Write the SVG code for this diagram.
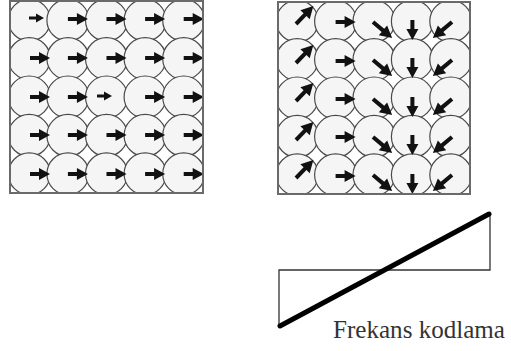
<svg xmlns="http://www.w3.org/2000/svg" xmlns:xlink="http://www.w3.org/1999/xlink" width="511" height="351" viewBox="0 0 511 351">
<style>
.c{fill:#f5f5f5;stroke:#4a4a4a;stroke-width:1.2}
.box{fill:none;stroke:#6a6a6a;stroke-width:2}
.ar{fill:#111}
.ln{stroke:#333;stroke-width:1.3;fill:none}
.th{stroke:#000;stroke-width:5;stroke-linecap:round}
.t{font-family:"Liberation Serif","DejaVu Serif",serif;font-size:25px;fill:#333}
</style>
<defs>
<path id="a" class="ar" d="M0,-2 H9 V-6 L20,0 L9,6 V2 H0 Z"/>
<path id="s" class="ar" d="M0,-1.4 H7 V-4.5 L15,0 L7,4.5 V1.4 H0 Z"/>
<path id="d" class="ar" d="M0,-2 H13 V-6.5 L25,0 L13,6.5 V2 H0 Z"/>
<clipPath id="cl"><rect x="10" y="1" width="193" height="192"/></clipPath>
<clipPath id="cr"><rect x="278" y="2" width="192" height="192"/></clipPath>
</defs>
<rect x="0" y="0" width="511" height="351" fill="#fff"/>
<g id="left-grid" clip-path="url(#cl)">
<g id="L11"><circle class="c" cx="29.3" cy="20.2" r="21"/></g>
<g id="L12"><circle class="c" cx="67.9" cy="20.2" r="21"/></g>
<g id="L13"><circle class="c" cx="106.5" cy="20.2" r="21"/></g>
<g id="L14"><circle class="c" cx="145.1" cy="20.2" r="21"/></g>
<g id="L15"><circle class="c" cx="183.7" cy="20.2" r="21"/></g>
<g id="L21"><circle class="c" cx="29.3" cy="58.6" r="21"/></g>
<g id="L22"><circle class="c" cx="67.9" cy="58.6" r="21"/></g>
<g id="L23"><circle class="c" cx="106.5" cy="58.6" r="21"/></g>
<g id="L24"><circle class="c" cx="145.1" cy="58.6" r="21"/></g>
<g id="L25"><circle class="c" cx="183.7" cy="58.6" r="21"/></g>
<g id="L31"><circle class="c" cx="29.3" cy="97" r="21"/></g>
<g id="L32"><circle class="c" cx="67.9" cy="97" r="21"/></g>
<g id="L33"><circle class="c" cx="106.5" cy="97" r="21"/></g>
<g id="L34"><circle class="c" cx="145.1" cy="97" r="21"/></g>
<g id="L35"><circle class="c" cx="183.7" cy="97" r="21"/></g>
<g id="L41"><circle class="c" cx="29.3" cy="135.4" r="21"/></g>
<g id="L42"><circle class="c" cx="67.9" cy="135.4" r="21"/></g>
<g id="L43"><circle class="c" cx="106.5" cy="135.4" r="21"/></g>
<g id="L44"><circle class="c" cx="145.1" cy="135.4" r="21"/></g>
<g id="L45"><circle class="c" cx="183.7" cy="135.4" r="21"/></g>
<g id="L51"><circle class="c" cx="29.3" cy="173.8" r="21"/></g>
<g id="L52"><circle class="c" cx="67.9" cy="173.8" r="21"/></g>
<g id="L53"><circle class="c" cx="106.5" cy="173.8" r="21"/></g>
<g id="L54"><circle class="c" cx="145.1" cy="173.8" r="21"/></g>
<g id="L55"><circle class="c" cx="183.7" cy="173.8" r="21"/></g>
<g id="left-arrows">
<use href="#s" transform="translate(29,18)"/>
<use href="#a" transform="translate(67.9,19)"/>
<use href="#a" transform="translate(106.5,19)"/>
<use href="#a" transform="translate(145.1,19)"/>
<use href="#a" transform="translate(183.7,19)"/>
<use href="#a" transform="translate(30,58)"/>
<use href="#a" transform="translate(67.9,58)"/>
<use href="#a" transform="translate(106.5,58)"/>
<use href="#a" transform="translate(145.1,58)"/>
<use href="#a" transform="translate(183.7,58)"/>
<use href="#a" transform="translate(30,97)"/>
<use href="#a" transform="translate(67.9,97)"/>
<use href="#s" transform="translate(97,96)"/>
<use href="#a" transform="translate(145.1,97)"/>
<use href="#a" transform="translate(183.7,97)"/>
<use href="#a" transform="translate(30,135)"/>
<use href="#a" transform="translate(67.9,135)"/>
<use href="#a" transform="translate(106.5,135)"/>
<use href="#a" transform="translate(145.1,135)"/>
<use href="#a" transform="translate(183.7,135)"/>
<use href="#a" transform="translate(30,174)"/>
<use href="#a" transform="translate(67.9,174)"/>
<use href="#a" transform="translate(106.5,174)"/>
<use href="#a" transform="translate(145.1,174)"/>
<use href="#a" transform="translate(183.7,174)"/>
</g>
</g>
<rect class="box" x="10" y="1" width="193" height="192"/>
<g id="right-grid" clip-path="url(#cr)">
<g id="R11"><circle class="c" cx="297.2" cy="21.2" r="21"/></g>
<g id="R12"><circle class="c" cx="335.6" cy="21.2" r="21"/></g>
<g id="R13"><circle class="c" cx="374" cy="21.2" r="21"/></g>
<g id="R14"><circle class="c" cx="412.4" cy="21.2" r="21"/></g>
<g id="R15"><circle class="c" cx="450.8" cy="21.2" r="21"/></g>
<g id="R21"><circle class="c" cx="297.2" cy="59.6" r="21"/></g>
<g id="R22"><circle class="c" cx="335.6" cy="59.6" r="21"/></g>
<g id="R23"><circle class="c" cx="374" cy="59.6" r="21"/></g>
<g id="R24"><circle class="c" cx="412.4" cy="59.6" r="21"/></g>
<g id="R25"><circle class="c" cx="450.8" cy="59.6" r="21"/></g>
<g id="R31"><circle class="c" cx="297.2" cy="98" r="21"/></g>
<g id="R32"><circle class="c" cx="335.6" cy="98" r="21"/></g>
<g id="R33"><circle class="c" cx="374" cy="98" r="21"/></g>
<g id="R34"><circle class="c" cx="412.4" cy="98" r="21"/></g>
<g id="R35"><circle class="c" cx="450.8" cy="98" r="21"/></g>
<g id="R41"><circle class="c" cx="297.2" cy="136.4" r="21"/></g>
<g id="R42"><circle class="c" cx="335.6" cy="136.4" r="21"/></g>
<g id="R43"><circle class="c" cx="374" cy="136.4" r="21"/></g>
<g id="R44"><circle class="c" cx="412.4" cy="136.4" r="21"/></g>
<g id="R45"><circle class="c" cx="450.8" cy="136.4" r="21"/></g>
<g id="R51"><circle class="c" cx="297.2" cy="174.8" r="21"/></g>
<g id="R52"><circle class="c" cx="335.6" cy="174.8" r="21"/></g>
<g id="R53"><circle class="c" cx="374" cy="174.8" r="21"/></g>
<g id="R54"><circle class="c" cx="412.4" cy="174.8" r="21"/></g>
<g id="R55"><circle class="c" cx="450.8" cy="174.8" r="21"/></g>
<g id="right-arrows">
<use href="#d" transform="translate(296,24) rotate(-46)"/>
<use href="#d" transform="translate(296,63) rotate(-46)"/>
<use href="#d" transform="translate(296,101) rotate(-46)"/>
<use href="#d" transform="translate(296,140) rotate(-46)"/>
<use href="#d" transform="translate(296,178) rotate(-46)"/>
<use href="#a" transform="translate(335.6,22)"/>
<use href="#a" transform="translate(335.6,61)"/>
<use href="#a" transform="translate(335.6,99)"/>
<use href="#a" transform="translate(335.6,137)"/>
<use href="#a" transform="translate(335.6,176)"/>
<use href="#d" transform="translate(373,22) rotate(40)"/>
<use href="#d" transform="translate(373,60) rotate(40)"/>
<use href="#d" transform="translate(373,99) rotate(40)"/>
<use href="#d" transform="translate(373,137) rotate(40)"/>
<use href="#d" transform="translate(373,175) rotate(40)"/>
<use href="#a" transform="translate(412.4,20) rotate(90)"/>
<use href="#a" transform="translate(412.4,58) rotate(90)"/>
<use href="#a" transform="translate(412.4,97) rotate(90)"/>
<use href="#a" transform="translate(412.4,135) rotate(90)"/>
<use href="#a" transform="translate(412.4,174) rotate(90)"/>
<use href="#d" transform="translate(452,22) rotate(140)"/>
<use href="#d" transform="translate(452,60) rotate(140)"/>
<use href="#d" transform="translate(452,99) rotate(140)"/>
<use href="#d" transform="translate(452,137) rotate(140)"/>
<use href="#d" transform="translate(452,175) rotate(140)"/>
</g>
</g>
<rect class="box" x="278" y="2" width="192" height="192"/>
<g id="frequency-plot">
<path class="ln" d="M279,327 V270 H490 V213"/>
<line class="th" x1="280" y1="326" x2="489" y2="214"/>
<text class="t" x="333" y="338" textLength="172" lengthAdjust="spacingAndGlyphs">Frekans kodlama</text>
</g>
</svg>
